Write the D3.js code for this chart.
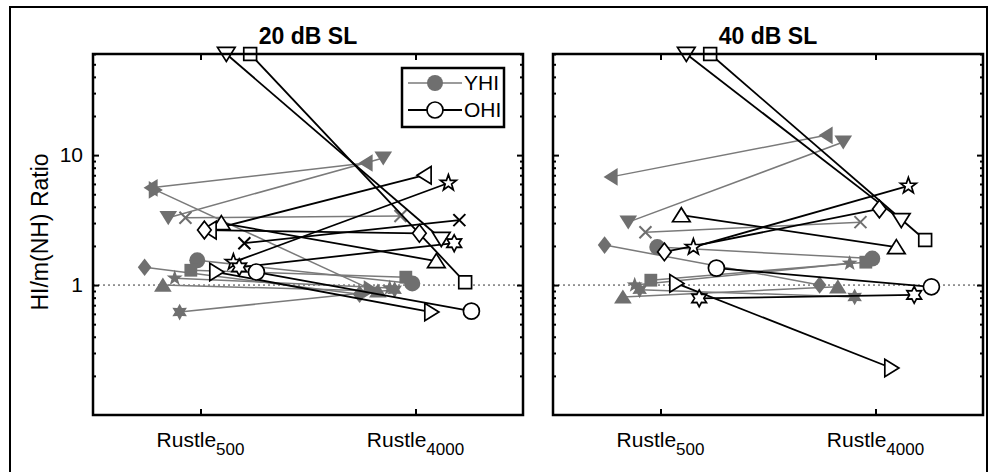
<!DOCTYPE html>
<html>
<head>
<meta charset="utf-8">
<script src="https://cdn.jsdelivr.net/npm/d3@7"></script>
<style>
  body { margin: 0; background: #fff; }
  svg { display: block; font-family: "Liberation Sans", Arial, sans-serif; }
</style>
</head>
<body>
<div id="plot"></div>
<script>
// data
const categories = ["Rustle500", "Rustle4000"];
const panelTitles = ["20 dB SL", "40 dB SL"];
const yTickValues = [1, 10];

// YHI (grey, filled)
const yhiMarkers = ["<", ">", "v", "x", "d", "o", "s", "p", "^", "h"];
const yhiJitter  = [-0.23, -0.21, -0.15, -0.07, -0.26, -0.015, -0.045, -0.12, -0.175, -0.097];
const yhi20_500  = [5.6, 5.4, 3.3, 3.3, 1.37, 1.55, 1.3, 1.13, 1.0, 0.62];
const yhi20_4000 = [8.7, 0.93, 9.5, 3.4, 0.85, 1.03, 1.15, 0.95, 0.9, 0.92];
const yhi40_500  = [6.8, null, 3.05, 2.55, 2.03, 1.96, 1.09, 1.0, 0.81, 0.92];
const yhi40_4000 = [14.2, null, 12.6, 3.05, 1.0, 1.6, 1.5, 1.47, 0.97, 0.81];

// OHI (black, open)
const ohiMarkers = ["v", "s", "^", "<", "d", "x", "p", "h", ">", "o"];
const ohiJitter  = [0.12, 0.231, 0.097, 0.042, 0.018, 0.204, 0.153, 0.18, 0.074, 0.26];
const ohi20_500  = [60, 60, 3.0, 2.65, 2.65, 2.1, 1.5, 1.37, 1.26, 1.26];
const ohi20_4000 = [2.26, 1.05, 1.53, 7.0, 2.5, 3.16, 6.1, 2.1, 0.62, 0.63];
const ohi40_500  = [60, 60, 3.45, null, 1.8, null, 1.96, 0.79, 1.03, 1.35];
const ohi40_4000 = [3.16, 2.22, 1.96, null, 3.85, null, 5.8, 0.84, 0.23, 0.97];

const w = 992;
const h = 472;
const grey = "#6f6f6f";
const greyLine = "#7a7a7a";

const svg = d3.select("div#plot")
    .append("svg")
    .attr("width", w)
    .attr("height", h);

svg.append("rect")
    .attr("width", w)
    .attr("height", h)
    .attr("fill", "white");

// outer frame
svg.append("rect")
    .attr("x", 10).attr("y", 7)
    .attr("width", 977).attr("height", 500)
    .attr("fill", "none")
    .attr("stroke", "black")
    .attr("stroke-width", 2);

const yTop = 54, yBottom = 415;
const panelW = 430;
const panels = [
  {x0: 93,  title: panelTitles[0], yhi: [yhi20_500, yhi20_4000], ohi: [ohi20_500, ohi20_4000], legend: true},
  {x0: 553, title: panelTitles[1], yhi: [yhi40_500, yhi40_4000], ohi: [ohi40_500, ohi40_4000], legend: false}
];

const yScale = d3.scaleLog()
    .domain([0.1, 60])
    .range([yBottom, yTop]);

function markerPath(type, s) {
  const p = d3.path();
  const t = s * 1.1;
  if (type === "o") {
    p.moveTo(s, 0);
    p.arc(0, 0, s, 0, 2 * Math.PI);
  } else if (type === "s") {
    p.rect(-s * 0.8, -s * 0.8, s * 1.6, s * 1.6);
  } else if (type === "d") {
    p.moveTo(0, -s * 1.1); p.lineTo(s * 0.85, 0); p.lineTo(0, s * 1.1); p.lineTo(-s * 0.85, 0); p.closePath();
  } else if (type === "^") {
    p.moveTo(0, -t * 0.85); p.lineTo(t, t * 0.75); p.lineTo(-t, t * 0.75); p.closePath();
  } else if (type === "v") {
    p.moveTo(0, t * 0.85); p.lineTo(t, -t * 0.75); p.lineTo(-t, -t * 0.75); p.closePath();
  } else if (type === ">") {
    p.moveTo(t * 0.85, 0); p.lineTo(-t * 0.75, -t); p.lineTo(-t * 0.75, t); p.closePath();
  } else if (type === "<") {
    p.moveTo(-t * 0.85, 0); p.lineTo(t * 0.75, -t); p.lineTo(t * 0.75, t); p.closePath();
  } else if (type === "x") {
    const k = s * 0.75;
    p.moveTo(-k, -k); p.lineTo(k, k); p.moveTo(-k, k); p.lineTo(k, -k);
  } else if (type === "p" || type === "h") {
    const n = type === "p" ? 5 : 6;
    const inner = type === "p" ? s * 0.42 : s * 0.58;
    for (let i = 0; i < 2 * n; i++) {
      const r = i % 2 === 0 ? s * 1.05 : inner;
      const a = -Math.PI / 2 + i * Math.PI / n;
      if (i === 0) p.moveTo(r * Math.cos(a), r * Math.sin(a));
      else p.lineTo(r * Math.cos(a), r * Math.sin(a));
    }
    p.closePath();
  }
  return p.toString();
}

function drawGroup(g, xScale, markers, jitter, vals, filled) {
  const pairs = markers.map((m, i) => ({
    m: m, j: jitter[i], a: vals[0][i], b: vals[1][i]
  })).filter(d => d.a != null && d.b != null);

  g.append("g").selectAll("line")
    .data(pairs)
    .enter().append("line")
    .attr("x1", d => xScale(1 + d.j))
    .attr("y1", d => yScale(d.a))
    .attr("x2", d => xScale(2 + d.j))
    .attr("y2", d => yScale(d.b))
    .attr("stroke", filled ? greyLine : "black")
    .attr("stroke-width", filled ? 1.5 : 1.8);

  const pts = [];
  pairs.forEach(d => {
    pts.push({m: d.m, x: 1 + d.j, v: d.a});
    pts.push({m: d.m, x: 2 + d.j, v: d.b});
  });

  g.append("g").selectAll("path")
    .data(pts)
    .enter().append("path")
    .attr("transform", d => `translate(${xScale(d.x)},${yScale(d.v)})`)
    .attr("d", d => markerPath(d.m, 8))
    .attr("fill", d => d.m === "x" ? "none" : (filled ? grey : "white"))
    .attr("stroke", d => filled ? (d.m === "x" ? grey : "none") : "black")
    .attr("stroke-width", d => d.m === "x" ? 2 : 1.7);
}

panels.forEach(pn => {
  const x1 = pn.x0 + panelW;
  const xScale = d3.scaleLinear()
      .domain([0.5, 2.5])
      .range([pn.x0, x1]);

  const g = svg.append("g");

  // dotted reference line at 1
  g.append("line")
    .attr("x1", pn.x0).attr("x2", x1)
    .attr("y1", yScale(1)).attr("y2", yScale(1))
    .attr("stroke", "#333")
    .attr("stroke-width", 1)
    .attr("stroke-dasharray", "2,3");

  drawGroup(g, xScale, yhiMarkers, yhiJitter, pn.yhi, true);
  drawGroup(g, xScale, ohiMarkers, ohiJitter, pn.ohi, false);

  // axes (box on, ticks inward on all sides)
  const yAxisL = d3.axisLeft(yScale).tickValues(yTickValues).tickSizeInner(-6).tickSizeOuter(0)
      .tickPadding(10).tickFormat(d3.format("d"));
  const yAxisR = d3.axisRight(yScale).tickValues(yTickValues).tickSizeInner(-6).tickSizeOuter(0)
      .tickFormat("");
  const minor = [];
  [0.1, 1, 10].forEach(dec => d3.range(2, 10).forEach(k => { if (k * dec <= 60) minor.push(k * dec); }));
  const yMinL = d3.axisLeft(yScale).tickValues(minor).tickSizeInner(-3).tickSizeOuter(0).tickFormat("");
  const yMinR = d3.axisRight(yScale).tickValues(minor).tickSizeInner(-3).tickSizeOuter(0).tickFormat("");
  const xAxisB = d3.axisBottom(xScale).tickValues([1, 2]).tickSizeInner(-6).tickSizeOuter(0).tickFormat("");
  const xAxisT = d3.axisTop(xScale).tickValues([1, 2]).tickSizeInner(-6).tickSizeOuter(0).tickFormat("");

  const axes = [
    [yAxisL, `translate(${pn.x0},0)`],
    [yMinL, `translate(${pn.x0},0)`],
    [yAxisR, `translate(${x1},0)`],
    [yMinR, `translate(${x1},0)`],
    [xAxisB, `translate(0,${yBottom})`],
    [xAxisT, `translate(0,${yTop})`]
  ];
  axes.forEach(([ax, tr]) => {
    const a = g.append("g").attr("transform", tr).call(ax);
    a.select(".domain").remove();
    a.selectAll("line").attr("stroke", "black").attr("stroke-width", 2);
    a.selectAll("text").attr("fill", "black").style("font-size", "21px")
      .style("font-family", "'Liberation Sans', Arial, sans-serif");
  });
  if (pn.x0 !== 93) g.selectAll(".tick text").remove();

  g.append("rect")
    .attr("x", pn.x0).attr("y", yTop)
    .attr("width", panelW).attr("height", yBottom - yTop)
    .attr("fill", "none")
    .attr("stroke", "black")
    .attr("stroke-width", 2.5);

  // category labels with subscript
  categories.forEach((c, i) => {
    const t = g.append("text")
      .attr("x", xScale(i + 1))
      .attr("y", 447)
      .attr("text-anchor", "middle")
      .style("font-size", "21px");
    t.append("tspan").text(c.slice(0, 6));
    t.append("tspan").attr("dy", 8).style("font-size", "17px").text(c.slice(6));
  });

  g.append("text")
    .attr("x", (pn.x0 + x1) / 2)
    .attr("y", 44)
    .attr("text-anchor", "middle")
    .style("font-size", "23px")
    .style("font-weight", "bold")
    .text(pn.title);

  if (pn.legend) {
    const lg = g.append("g");
    lg.append("rect")
      .attr("x", 402).attr("y", 68)
      .attr("width", 102).attr("height", 59)
      .attr("fill", "white")
      .attr("stroke", "black")
      .attr("stroke-width", 2.5);
    [["YHI", true], ["OHI", false]].forEach(([lab, filled], i) => {
      const yy = 83 + i * 27;
      lg.append("line")
        .attr("x1", 408).attr("x2", 462)
        .attr("y1", yy).attr("y2", yy)
        .attr("stroke", filled ? greyLine : "black")
        .attr("stroke-width", filled ? 1.5 : 1.8);
      lg.append("path")
        .attr("transform", `translate(435,${yy})`)
        .attr("d", markerPath("o", 8))
        .attr("fill", filled ? grey : "white")
        .attr("stroke", filled ? "none" : "black")
        .attr("stroke-width", 1.7);
      lg.append("text")
        .attr("x", 464).attr("y", yy + 7)
        .style("font-size", "21px")
        .text(lab);
    });
  }
});

svg.append("text")
  .attr("transform", "rotate(-90)")
  .attr("x", -232)
  .attr("y", 48)
  .attr("text-anchor", "middle")
  .style("font-size", "23px")
  .text("HI/m(NH) Ratio");
</script>
</body>
</html>
